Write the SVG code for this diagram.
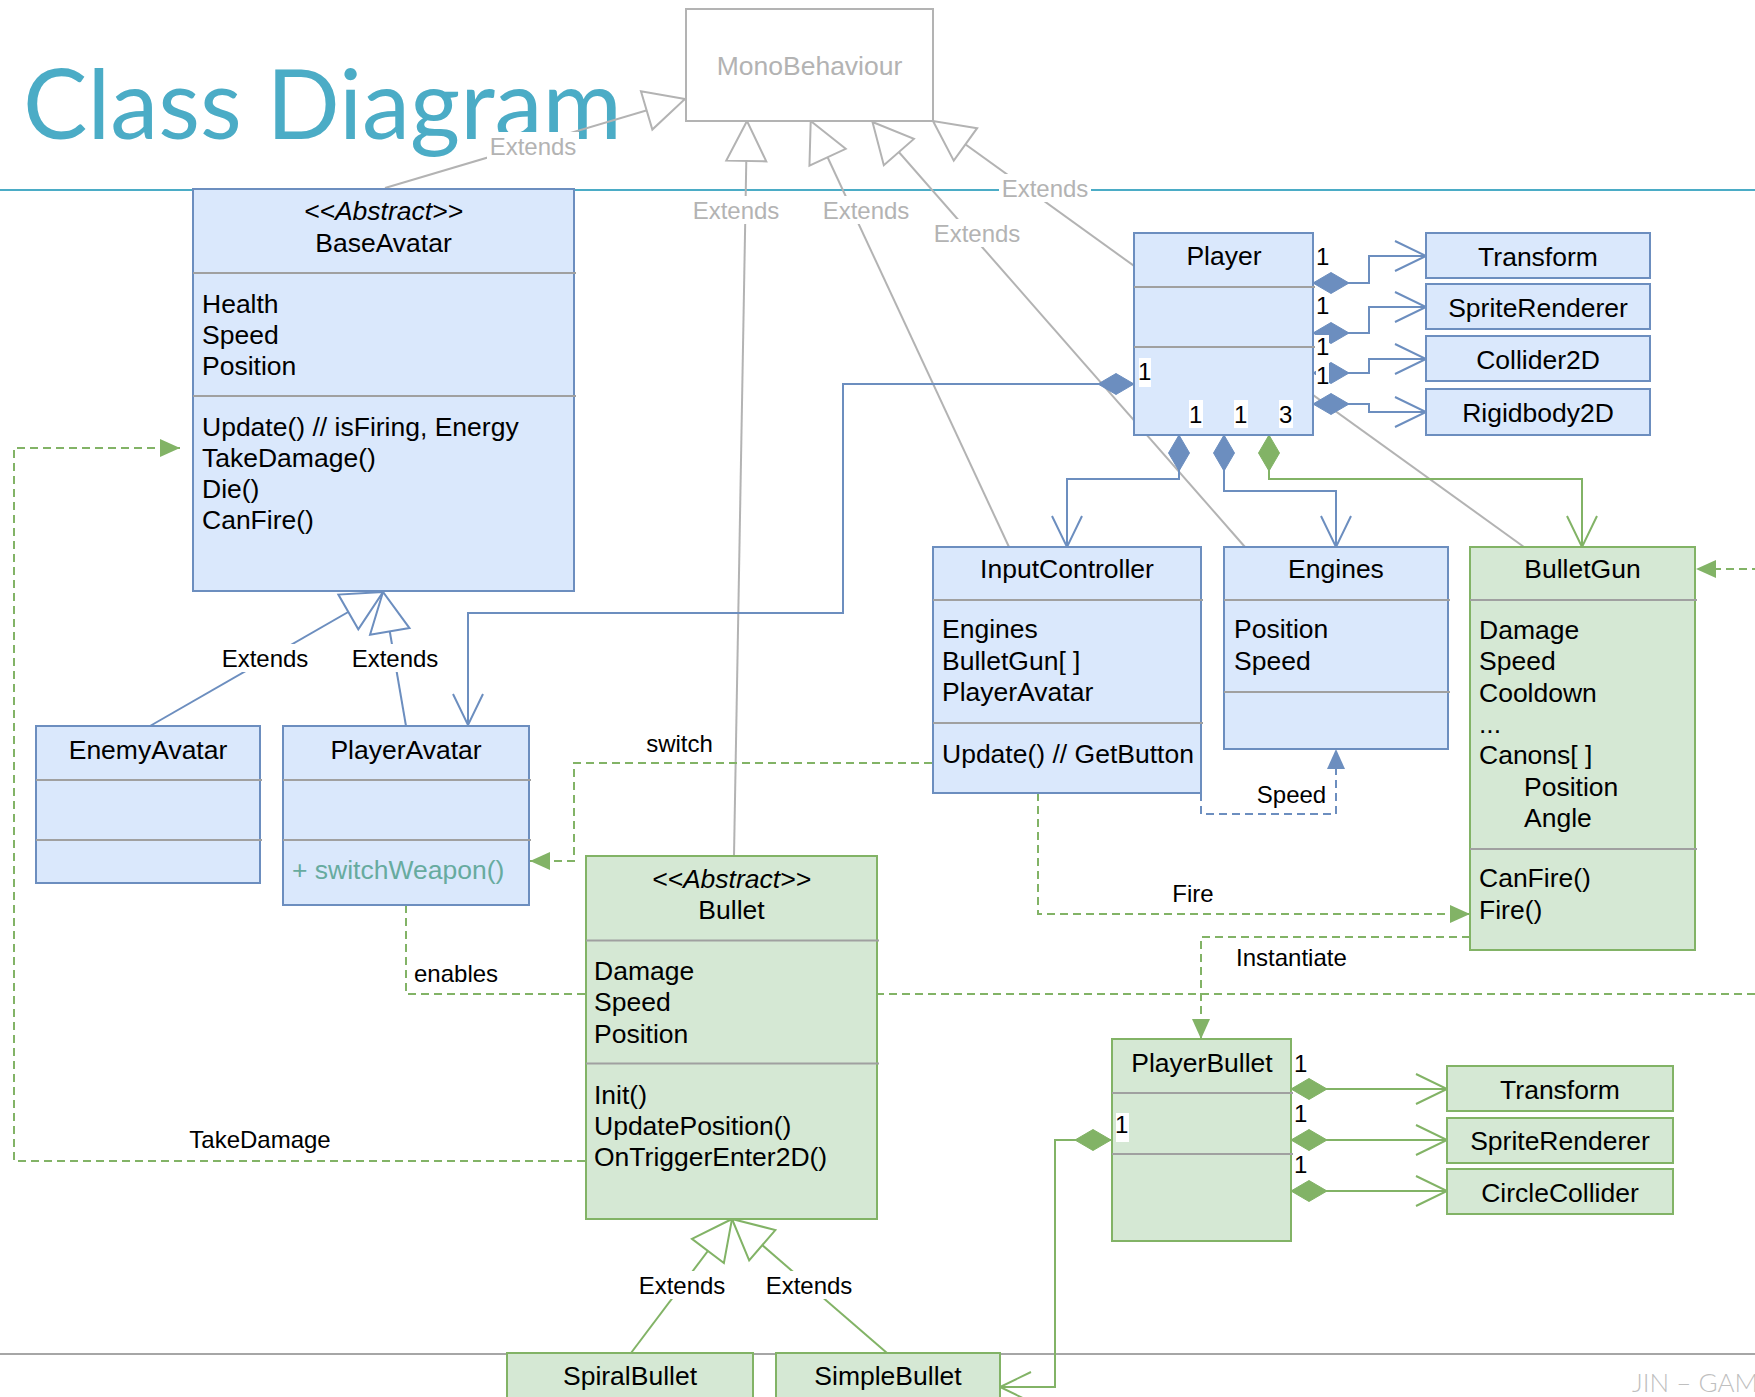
<svg xmlns="http://www.w3.org/2000/svg" width="1755" height="1397" viewBox="0 0 1755 1397">
<defs>
<style>
.box-b{fill:#dae8fc;stroke:#6c8ebf;stroke-width:2}
.box-g{fill:#d5e8d4;stroke:#82b366;stroke-width:2}
.mono{fill:#fff;stroke:#b3b3b3;stroke-width:2}
.dv{stroke:#a0a0a0;stroke-width:2.2}
.t{font-family:"Liberation Sans",Arial,sans-serif;font-size:26.5px;fill:#000}
.c{text-anchor:middle}
.i{font-style:italic}
.lbl{font-family:"Liberation Sans",Arial,sans-serif;font-size:24px;fill:#000}
.gl{fill:#b3b3b3}
.ext{stroke:#b3b3b3;stroke-width:2;fill:none}
.cb{stroke:#6c8ebf;stroke-width:2;fill:none}
.cg{stroke:#82b366;stroke-width:2;fill:none}
.dg{stroke:#82b366;stroke-width:2;fill:none;stroke-dasharray:8 5}
.db{stroke:#6c8ebf;stroke-width:2;fill:none;stroke-dasharray:8 5}
.bg{fill:#fff}
</style>
<marker id="triGray" markerUnits="userSpaceOnUse" orient="auto" refX="0" refY="0" markerWidth="50" markerHeight="50" overflow="visible" style="overflow:visible"><path d="M0,0 L-40,-20 L-40,20 Z" fill="#fff" stroke="#b3b3b3" stroke-width="2"/></marker>
<marker id="triBlue" markerUnits="userSpaceOnUse" orient="auto" refX="0" refY="0" markerWidth="50" markerHeight="50" overflow="visible" style="overflow:visible"><path d="M0,0 L-40,-20 L-40,20 Z" fill="#fff" stroke="#6c8ebf" stroke-width="2"/></marker>
<marker id="triGreen" markerUnits="userSpaceOnUse" orient="auto" refX="0" refY="0" markerWidth="50" markerHeight="50" overflow="visible" style="overflow:visible"><path d="M0,0 L-40,-20 L-40,20 Z" fill="#fff" stroke="#82b366" stroke-width="2"/></marker>
<marker id="openB" markerUnits="userSpaceOnUse" orient="auto" refX="0" refY="0" markerWidth="40" markerHeight="40" overflow="visible" style="overflow:visible"><path d="M-31,-15 L0,0 L-31,15" fill="none" stroke="#6c8ebf" stroke-width="2"/></marker>
<marker id="openG" markerUnits="userSpaceOnUse" orient="auto" refX="0" refY="0" markerWidth="40" markerHeight="40" overflow="visible" style="overflow:visible"><path d="M-31,-15 L0,0 L-31,15" fill="none" stroke="#82b366" stroke-width="2"/></marker>
<marker id="fillG" markerUnits="userSpaceOnUse" orient="auto" refX="0" refY="0" markerWidth="30" markerHeight="30" overflow="visible" style="overflow:visible"><path d="M0,0 L-20,-9 L-20,9 Z" fill="#82b366" stroke="none"/></marker>
<marker id="fillB" markerUnits="userSpaceOnUse" orient="auto" refX="0" refY="0" markerWidth="30" markerHeight="30" overflow="visible" style="overflow:visible"><path d="M0,0 L-20,-9 L-20,9 Z" fill="#6c8ebf" stroke="none"/></marker>
<marker id="diaB" markerUnits="userSpaceOnUse" orient="auto" refX="0" refY="0" markerWidth="40" markerHeight="30" overflow="visible" style="overflow:visible"><path d="M0,0 L18,-10.5 L36,0 L18,10.5 Z" fill="#6c8ebf" stroke="#6c8ebf" stroke-width="1"/></marker>
<marker id="diaG" markerUnits="userSpaceOnUse" orient="auto" refX="0" refY="0" markerWidth="40" markerHeight="30" overflow="visible" style="overflow:visible"><path d="M0,0 L18,-10.5 L36,0 L18,10.5 Z" fill="#82b366" stroke="#82b366" stroke-width="1"/></marker>
</defs>
<rect x="0" y="0" width="1755" height="1397" fill="#fff"/>
<g id="slide">
<text x="23" y="138.5" font-family="Lato, 'Open Sans', sans-serif" font-size="96.5" fill="#4BACC6">Class Diagram</text>
<line x1="0" y1="190" x2="1755" y2="190" stroke="#4BACC6" stroke-width="2"/>
<line x1="0" y1="1354" x2="1755" y2="1354" stroke="#a6a6a6" stroke-width="2"/>
<text x="1632" y="1391.5" font-family="Lato, 'Open Sans', sans-serif" font-weight="300" font-size="26" fill="#bfbfbf">JIN – GAM</text>
</g>
<g id="connectors">
<path class="ext" d="M385,188 L685,99" marker-end="url(#triGray)"/>
<path class="ext" d="M734,856 L747,121" marker-end="url(#triGray)"/>
<path class="ext" d="M1009,547 L810.7,121" marker-end="url(#triGray)"/>
<path class="ext" d="M1245,547 L872.5,122" marker-end="url(#triGray)"/>
<path class="ext" d="M1524,547 L933,121" marker-end="url(#triGray)"/>
<rect class="bg" x="487" y="132" width="92" height="28"/><text class="lbl gl c" x="533" y="154.5">Extends</text>
<rect class="bg" x="690" y="196" width="92" height="28"/><text class="lbl gl c" x="736" y="218.5">Extends</text>
<rect class="bg" x="820" y="196" width="92" height="28"/><text class="lbl gl c" x="866" y="218.5">Extends</text>
<rect class="bg" x="931" y="219" width="92" height="28"/><text class="lbl gl c" x="977" y="241.5">Extends</text>
<rect class="bg" x="999" y="174" width="92" height="28"/><text class="lbl gl c" x="1045" y="196.5">Extends</text>

<path class="cb" d="M150,726 L383,592" marker-end="url(#triBlue)"/>
<path class="cb" d="M406,726 L383,592" marker-end="url(#triBlue)"/>
<rect class="bg" x="219" y="644" width="92" height="28"/><text class="lbl c" x="265" y="666.5">Extends</text>
<rect class="bg" x="349" y="644" width="92" height="28"/><text class="lbl c" x="395" y="666.5">Extends</text>

<path class="cg" d="M631,1353 L732,1219" marker-end="url(#triGreen)"/>
<path class="cg" d="M887,1353 L732,1219" marker-end="url(#triGreen)"/>
<rect class="bg" x="636" y="1271" width="92" height="28"/><text class="lbl c" x="682" y="1293.5">Extends</text>
<rect class="bg" x="763" y="1271" width="92" height="28"/><text class="lbl c" x="809" y="1293.5">Extends</text>

<path class="cb" d="M1313,283 H1369 V256 H1426" marker-start="url(#diaB)" marker-end="url(#openB)"/>
<path class="cb" d="M1313,333 H1369 V307 H1426" marker-start="url(#diaB)" marker-end="url(#openB)"/>
<path class="cb" d="M1313,373 H1369 V359 H1426" marker-start="url(#diaB)" marker-end="url(#openB)"/>
<path class="cb" d="M1313,404 H1369 V412 H1426" marker-start="url(#diaB)" marker-end="url(#openB)"/>
<path class="cb" d="M1134,384 H843 V613 H468 V725" marker-start="url(#diaB)" marker-end="url(#openB)"/>
<path class="cb" d="M1179,435 V479 H1067 V547" marker-start="url(#diaB)" marker-end="url(#openB)"/>
<path class="cb" d="M1224,435 V491 H1336 V547" marker-start="url(#diaB)" marker-end="url(#openB)"/>
<path class="cg" d="M1269,435 V479 H1582 V547" marker-start="url(#diaG)" marker-end="url(#openG)"/>

<path class="cg" d="M1291,1089 H1447" marker-start="url(#diaG)" marker-end="url(#openG)"/>
<path class="cg" d="M1291,1140 H1447" marker-start="url(#diaG)" marker-end="url(#openG)"/>
<path class="cg" d="M1291,1191 H1447" marker-start="url(#diaG)" marker-end="url(#openG)"/>
<path class="cg" d="M1111,1140 H1055 V1387 H1000" marker-start="url(#diaG)" marker-end="url(#openG)"/>

<path class="dg" d="M932,763 H574 V861 H530" marker-end="url(#fillG)"/>
<path class="dg" d="M1038,793 V914 H1470" marker-end="url(#fillG)"/>
<path class="db" d="M1201,793 V814 H1336 V749" marker-end="url(#fillB)"/>
<path class="dg" d="M1470,937 H1201 V1039" marker-end="url(#fillG)"/>
<path class="dg" d="M406,905 V994 H1775 V569 H1696" marker-end="url(#fillG)"/>
<path class="dg" d="M585,1161 H14 V448 H180" marker-end="url(#fillG)"/>

<text class="lbl c" x="679.5" y="752">switch</text>
<text class="lbl c" x="1193" y="902">Fire</text>
<text class="lbl c" x="1291.5" y="803">Speed</text>
<text class="lbl" x="414" y="982">enables</text>
<text class="lbl" x="1236" y="966">Instantiate</text>
<text class="lbl c" x="260" y="1148">TakeDamage</text>
</g>

<g id="MonoBehaviour">
<rect class="mono" x="686" y="9" width="247" height="112"/>
<text class="t c" x="809.5" y="75" style="fill:#b3b3b3">MonoBehaviour</text>
</g>

<g id="BaseAvatar">
<rect class="box-b" x="193" y="189" width="381" height="402"/>
<line class="dv" x1="193" y1="273" x2="576" y2="273"/>
<line class="dv" x1="193" y1="396" x2="576" y2="396"/>
<text class="t c i" x="383.5" y="220">&lt;&lt;Abstract&gt;&gt;</text>
<text class="t c" x="383.5" y="251.5">BaseAvatar</text>
<text class="t" x="202" y="312.7">Health</text>
<text class="t" x="202" y="343.9">Speed</text>
<text class="t" x="202" y="375.1">Position</text>
<text class="t" x="202" y="435.7">Update() // isFiring, Energy</text>
<text class="t" x="202" y="466.9">TakeDamage()</text>
<text class="t" x="202" y="498.1">Die()</text>
<text class="t" x="202" y="529.3">CanFire()</text>
</g>

<g id="EnemyAvatar">
<rect class="box-b" x="36" y="726" width="224" height="157"/>
<line class="dv" x1="36" y1="780" x2="262" y2="780"/>
<line class="dv" x1="36" y1="840" x2="262" y2="840"/>
<text class="t c" x="148" y="758.5">EnemyAvatar</text>
</g>

<g id="PlayerAvatar">
<rect class="box-b" x="283" y="726" width="246" height="179"/>
<line class="dv" x1="283" y1="780" x2="531" y2="780"/>
<line class="dv" x1="283" y1="840" x2="531" y2="840"/>
<text class="t c" x="406" y="758.5">PlayerAvatar</text>
<text class="t" x="292" y="879" style="fill:#67AB9F">+ switchWeapon()</text>
</g>

<g id="Player">
<rect class="box-b" x="1134" y="233" width="179" height="202"/>
<line class="dv" x1="1134" y1="287" x2="1315" y2="287"/>
<line class="dv" x1="1134" y1="347" x2="1315" y2="347"/>
<text class="t c" x="1224" y="265">Player</text>
</g>

<g id="Player-multiplicities">
<rect class="bg" x="1316" y="245" width="13" height="24"/><text class="lbl" x="1316" y="265">1</text>
<rect class="bg" x="1316" y="295" width="13" height="24"/><text class="lbl" x="1316" y="314">1</text>
<rect class="bg" x="1316" y="335" width="13" height="24"/><text class="lbl" x="1316" y="355">1</text>
<rect class="bg" x="1316" y="363" width="13" height="24"/><text class="lbl" x="1316" y="384">1</text>
<rect class="bg" x="1139" y="358" width="12" height="29"/><text class="lbl" x="1138" y="380">1</text>
<rect class="bg" x="1189" y="400" width="14" height="28"/><text class="lbl" x="1189" y="422.7">1</text>
<rect class="bg" x="1234" y="400" width="14" height="28"/><text class="lbl" x="1234" y="422.7">1</text>
<rect class="bg" x="1279" y="400" width="14" height="28"/><text class="lbl" x="1279" y="422.7">3</text>
</g>

<g id="Transform">
<rect class="box-b" x="1426" y="233" width="224" height="45"/>
<text class="t c" x="1538" y="265.5">Transform</text>
</g>
<g id="SpriteRenderer">
<rect class="box-b" x="1426" y="284" width="224" height="45"/>
<text class="t c" x="1538" y="317">SpriteRenderer</text>
</g>
<g id="Collider2D">
<rect class="box-b" x="1426" y="336" width="224" height="45"/>
<text class="t c" x="1538" y="368.5">Collider2D</text>
</g>
<g id="Rigidbody2D">
<rect class="box-b" x="1426" y="389" width="224" height="46"/>
<text class="t c" x="1538" y="422">Rigidbody2D</text>
</g>

<g id="InputController">
<rect class="box-b" x="933" y="547" width="268" height="246"/>
<line class="dv" x1="933" y1="600" x2="1203" y2="600"/>
<line class="dv" x1="933" y1="723" x2="1203" y2="723"/>
<text class="t c" x="1067" y="578">InputController</text>
<text class="t" x="942" y="638">Engines</text>
<text class="t" x="942" y="669.5">BulletGun[ ]</text>
<text class="t" x="942" y="701">PlayerAvatar</text>
<text class="t" x="942" y="762.5">Update() // GetButton</text>
</g>

<g id="Engines">
<rect class="box-b" x="1224" y="547" width="224" height="202"/>
<line class="dv" x1="1224" y1="600" x2="1450" y2="600"/>
<line class="dv" x1="1224" y1="692" x2="1450" y2="692"/>
<text class="t c" x="1336" y="578">Engines</text>
<text class="t" x="1234" y="638">Position</text>
<text class="t" x="1234" y="669.5">Speed</text>
</g>

<g id="BulletGun">
<rect class="box-g" x="1470" y="547" width="225" height="403"/>
<line class="dv" x1="1470" y1="600" x2="1697" y2="600"/>
<line class="dv" x1="1470" y1="849" x2="1697" y2="849"/>
<text class="t c" x="1582.5" y="578">BulletGun</text>
<text class="t" x="1479" y="639">Damage</text>
<text class="t" x="1479" y="670.3">Speed</text>
<text class="t" x="1479" y="701.6">Cooldown</text>
<text class="t" x="1479" y="732.9">...</text>
<text class="t" x="1479" y="764.2">Canons[ ]</text>
<text class="t" x="1524" y="795.5">Position</text>
<text class="t" x="1524" y="826.8">Angle</text>
<text class="t" x="1479" y="887">CanFire()</text>
<text class="t" x="1479" y="918.5">Fire()</text>
</g>

<g id="Bullet">
<rect class="box-g" x="586" y="856" width="291" height="363"/>
<line class="dv" x1="586" y1="940.5" x2="879" y2="940.5"/>
<line class="dv" x1="586" y1="1063.5" x2="879" y2="1063.5"/>
<text class="t c i" x="731.5" y="887.5">&lt;&lt;Abstract&gt;&gt;</text>
<text class="t c" x="731.5" y="919">Bullet</text>
<text class="t" x="594" y="979.5">Damage</text>
<text class="t" x="594" y="1011">Speed</text>
<text class="t" x="594" y="1042.5">Position</text>
<text class="t" x="594" y="1103.5">Init()</text>
<text class="t" x="594" y="1134.5">UpdatePosition()</text>
<text class="t" x="594" y="1166">OnTriggerEnter2D()</text>
</g>

<g id="PlayerBullet">
<rect class="box-g" x="1112" y="1039" width="179" height="202"/>
<line class="dv" x1="1112" y1="1093" x2="1293" y2="1093"/>
<line class="dv" x1="1112" y1="1154" x2="1293" y2="1154"/>
<text class="t c" x="1202" y="1072">PlayerBullet</text>
</g>

<g id="PlayerBullet-multiplicities">
<text class="lbl" x="1294" y="1072">1</text>
<text class="lbl" x="1294" y="1122">1</text>
<text class="lbl" x="1294" y="1173">1</text>
<rect class="bg" x="1116" y="1113" width="13" height="29"/><text class="lbl" x="1115" y="1133">1</text>
</g>

<g id="Transform2">
<rect class="box-g" x="1447" y="1066" width="226" height="45"/>
<text class="t c" x="1560" y="1098.5">Transform</text>
</g>
<g id="SpriteRenderer2">
<rect class="box-g" x="1447" y="1118" width="226" height="45"/>
<text class="t c" x="1560" y="1150">SpriteRenderer</text>
</g>
<g id="CircleCollider">
<rect class="box-g" x="1447" y="1169" width="226" height="45"/>
<text class="t c" x="1560" y="1201.5">CircleCollider</text>
</g>

<g id="SpiralBullet">
<rect class="box-g" x="507" y="1353" width="246" height="70"/>
<text class="t c" x="630" y="1385">SpiralBullet</text>
</g>
<g id="SimpleBullet">
<rect class="box-g" x="776" y="1353" width="224" height="70"/>
<text class="t c" x="888" y="1385">SimpleBullet</text>
</g>
</svg>
